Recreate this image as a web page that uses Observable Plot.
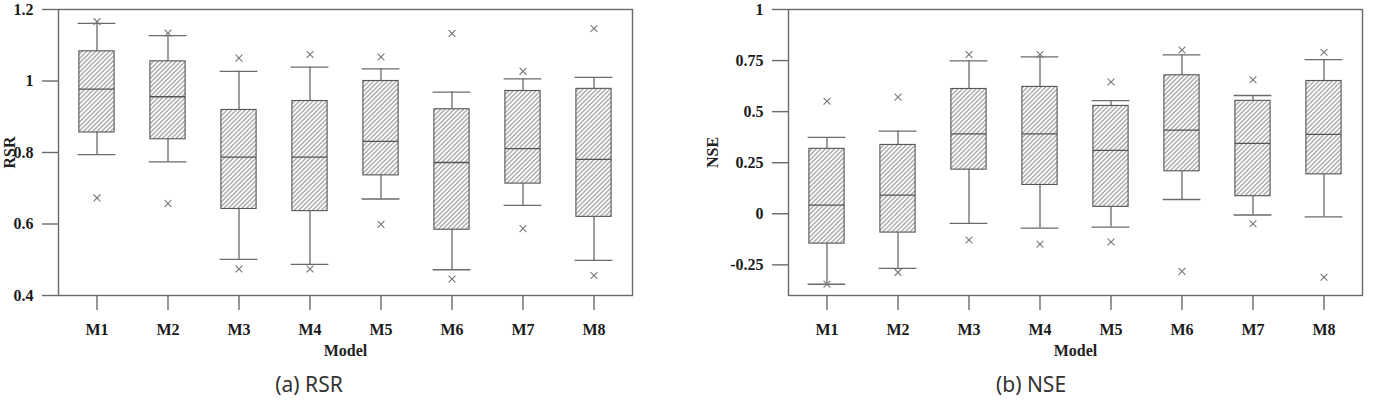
<!DOCTYPE html>
<html>
<head>
<meta charset="utf-8">
<script src="https://cdn.jsdelivr.net/npm/d3@7"></script>
<script src="https://cdn.jsdelivr.net/npm/@observablehq/plot@0.6"></script>
<style>
  html, body { margin: 0; padding: 0; background: #fff; }
  #wrap { position: relative; width: 1374px; height: 402px; overflow: hidden; background: #fff; }
  .panel { position: absolute; top: 0; }
  .caption { position: absolute; font-family: "Noto Sans", sans-serif; font-size: 21px; color: #333; white-space: nowrap; transform: translateX(-50%); line-height: 1; }
</style>
</head>
<body>
<div id="wrap">
  <div class="panel" id="pa" style="left:0px"></div>
  <div class="panel" id="pb" style="left:687px"></div>
  <div class="caption" style="left:309px; top:374px">(a) RSR</div>
  <div class="caption" style="left:1031px; top:374px">(b) NSE</div>
</div>
<script>
// ---- data ----
const models = ["M1", "M2", "M3", "M4", "M5", "M6", "M7", "M8"];

// RSR
const rsrWhiskerLow  = [0.794, 0.774, 0.501, 0.487, 0.670, 0.472, 0.652, 0.498];
const rsrQ1          = [0.856, 0.837, 0.642, 0.636, 0.736, 0.584, 0.713, 0.620];
const rsrMedian      = [0.977, 0.956, 0.787, 0.787, 0.831, 0.772, 0.811, 0.781];
const rsrQ3          = [1.083, 1.055, 0.919, 0.944, 1.000, 0.921, 0.972, 0.978];
const rsrWhiskerHigh = [1.161, 1.127, 1.027, 1.039, 1.034, 0.969, 1.006, 1.010];
const rsrMin         = [0.673, 0.657, 0.474, 0.474, 0.599, 0.446, 0.587, 0.456];
const rsrMax         = [1.166, 1.134, 1.064, 1.074, 1.067, 1.133, 1.027, 1.147];
const rsrTicks = [0.4, 0.6, 0.8, 1, 1.2];

// NSE
const nseWhiskerLow  = [-0.345, -0.267, -0.047, -0.070, -0.065, 0.070, -0.006, -0.015];
const nseQ1          = [-0.146, -0.092, 0.216, 0.141, 0.034, 0.208, 0.086, 0.193];
const nseMedian      = [0.042, 0.091, 0.391, 0.391, 0.310, 0.410, 0.345, 0.389];
const nseQ3          = [0.318, 0.337, 0.611, 0.621, 0.528, 0.678, 0.553, 0.650];
const nseWhiskerHigh = [0.374, 0.405, 0.749, 0.768, 0.554, 0.778, 0.579, 0.755];
const nseMin         = [-0.345, -0.287, -0.128, -0.149, -0.138, -0.282, -0.049, -0.311];
const nseMax         = [0.551, 0.571, 0.780, 0.780, 0.645, 0.802, 0.656, 0.791];
const nseTicks = [-0.25, 0, 0.25, 0.5, 0.75, 1];

function table(lo, q1, med, q3, hi) {
  return models.map((m, i) => ({model: m, lo: lo[i], q1: q1[i], med: med[i], q3: q3[i], hi: hi[i]}));
}
function outliers(mins, maxs) {
  const out = [];
  models.forEach((m, i) => { out.push({model: m, v: mins[i]}); out.push({model: m, v: maxs[i]}); });
  return out;
}

const LINE = "#6a6a6a";
const W = 687, H = 372;
const SERIF = "'Liberation Serif', 'Times New Roman', serif";
const font = {fontFamily: SERIF, fontWeight: "bold", fontSize: 16, fill: "#222"};
const tickFont = {fontFamily: SERIF, fontWeight: "bold", fontSize: 16, fill: "#1a1a1a"};

function panel({data, outs, domain, ticks, label, marginLeft, marginRight, labelDx, hatchId}) {
  const svg = Plot.plot({
    width: W,
    height: H,
    marginTop: 9,
    marginBottom: H - 295,
    marginLeft,
    marginRight,
    style: {fontFamily: SERIF, fontSize: "16px", fontWeight: "bold", color: "#222", background: "#fff"},
    x: {type: "band", domain: models, padding: 0, label: null},
    y: {domain, label: null},
    marks: [
      Plot.frame({stroke: LINE, strokeWidth: 1.4}),
      Plot.axisY({ticks, tickSize: 16, tickFormat: () => "", stroke: LINE, strokeWidth: 1.4, label: null}),
      Plot.text(ticks, {y: d => d, text: d => String(d), frameAnchor: "left", dx: -25, textAnchor: "end", lineAnchor: "middle", ...tickFont}),
      Plot.axisX({tickSize: 15, tickPadding: 13, stroke: LINE, strokeWidth: 1.4, label: null, ...tickFont}),
      Plot.ruleX(data, {x: "model", y1: "lo", y2: "q1", stroke: LINE, strokeWidth: 1.3}),
      Plot.ruleX(data, {x: "model", y1: "q3", y2: "hi", stroke: LINE, strokeWidth: 1.3}),
      Plot.tickY(data, {x: "model", y: "lo", stroke: LINE, strokeWidth: 1.3, insetLeft: 16.6, insetRight: 16.6}),
      Plot.tickY(data, {x: "model", y: "hi", stroke: LINE, strokeWidth: 1.3, insetLeft: 16.6, insetRight: 16.6}),
      Plot.barY(data, {x: "model", y1: "q1", y2: "q3", fill: `url(#${hatchId})`, stroke: "#555", strokeWidth: 1.1, insetLeft: 17.9, insetRight: 17.9}),
      Plot.tickY(data, {x: "model", y: "med", stroke: "#555", strokeWidth: 1.3, insetLeft: 17.9, insetRight: 17.9}),
      Plot.dot(outs, {x: "model", y: "v", symbol: "times", r: 3.2, stroke: "#777", strokeWidth: 1.1}),
      Plot.text([label], {text: d => d, frameAnchor: "left", dx: labelDx, rotate: -90, lineAnchor: "bottom", textAnchor: "middle", ...font}),
      Plot.text(["Model"], {text: d => d, frameAnchor: "bottom", dy: 55, lineAnchor: "middle", ...font})
    ]
  });
  const s = d3.select(svg);
  const defs = s.insert("defs", ":first-child");
  const p = defs.append("pattern")
    .attr("id", hatchId)
    .attr("patternUnits", "userSpaceOnUse")
    .attr("width", 3.2).attr("height", 3.2)
    .attr("patternTransform", "rotate(45)");
  p.append("rect").attr("width", 3.2).attr("height", 3.2).attr("fill", "#fff");
  p.append("line").attr("x1", 1.6).attr("y1", 0).attr("x2", 1.6).attr("y2", 3.2)
    .attr("stroke", "#777").attr("stroke-width", 0.9);
  return svg;
}

document.getElementById("pa").appendChild(panel({
  data: table(rsrWhiskerLow, rsrQ1, rsrMedian, rsrQ3, rsrWhiskerHigh),
  outs: outliers(rsrMin, rsrMax),
  domain: [0.4, 1.2], ticks: rsrTicks, label: "RSR",
  marginLeft: 58, marginRight: W - 632, labelDx: -44, hatchId: "hatchA"
}));
document.getElementById("pb").appendChild(panel({
  data: table(nseWhiskerLow, nseQ1, nseMedian, nseQ3, nseWhiskerHigh),
  outs: outliers(nseMin, nseMax),
  domain: [-0.4, 1], ticks: nseTicks, label: "NSE",
  marginLeft: 788 - 687, marginRight: W - (1362 - 687), labelDx: -71, hatchId: "hatchB"
}));
</script>
</body>
</html>
